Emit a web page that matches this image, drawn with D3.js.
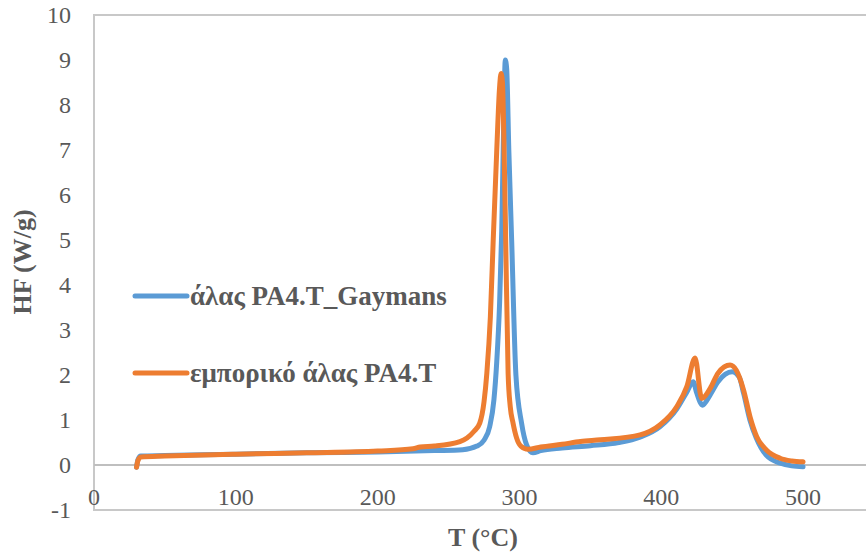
<!DOCTYPE html>
<html>
<head>
<meta charset="utf-8">
<script src="https://cdn.jsdelivr.net/npm/d3@7"></script>
<style>
  body { margin: 0; background: #fff; }
  text { font-family: "Liberation Serif", "Times New Roman", serif; fill: #595959; }
</style>
</head>
<body>
<script>
// series 1: άλας PA4.T_Gaymans
var blueT = [30, 31, 33, 50, 100, 150, 200, 240, 260, 270, 275, 279, 282, 284, 286, 287.5, 289, 290, 291, 292.5, 294.5, 297.5, 301.5, 305, 309.5, 315, 330, 350, 370, 385, 399, 411, 418, 422.5, 425, 429, 434.5, 440, 450, 455, 458, 462.5, 467, 474, 484, 492, 500];
var blueHF = [-0.05, 0.12, 0.2, 0.21, 0.24, 0.27, 0.29, 0.32, 0.34, 0.42, 0.55, 0.85, 1.45, 2.3, 3.6, 5.2, 7.8, 9.0, 8.8, 7.0, 5.0, 2.0, 0.93, 0.45, 0.27, 0.32, 0.38, 0.43, 0.5, 0.62, 0.85, 1.25, 1.62, 1.85, 1.6, 1.33, 1.56, 1.85, 2.07, 1.95, 1.6, 1.0, 0.6, 0.22, 0.04, -0.02, -0.04];

// series 2: εμπορικό άλας PA4.T
var orangeT = [30, 31, 33, 50, 100, 150, 200, 225, 230, 240, 258, 263, 268, 272, 275, 277, 279.5, 281.5, 284, 286, 287, 288, 289, 290.3, 292, 293.5, 295.5, 298, 301, 306, 315, 330, 343, 357, 385, 399, 411, 418, 423.8, 428.5, 434.6, 440, 448.5, 453, 458, 462.6, 467.3, 474.3, 483.8, 492, 500];
var orangeHF = [-0.05, 0.1, 0.18, 0.2, 0.24, 0.27, 0.31, 0.36, 0.4, 0.42, 0.52, 0.6, 0.75, 0.93, 1.4, 2.04, 3.3, 5.0, 7.0, 8.4, 8.7, 8.5, 7.3, 5.0, 2.04, 1.3, 0.93, 0.6, 0.42, 0.35, 0.4, 0.46, 0.52, 0.56, 0.67, 0.89, 1.3, 1.74, 2.38, 1.48, 1.71, 2.04, 2.22, 2.1, 1.67, 1.07, 0.63, 0.33, 0.15, 0.09, 0.07];

var xTicks = [0, 100, 200, 300, 400, 500];
var yTicks = [-1, 0, 1, 2, 3, 4, 5, 6, 7, 8, 9, 10];
var seriesNames = ["άλας PA4.T_Gaymans", "εμπορικό άλας PA4.T"];
var colors = ["#5B9BD5", "#ED7D31"];

var W = 866, H = 554;
var svg = d3.select("body").append("svg").attr("width", W).attr("height", H);

var x = d3.scaleLinear().domain([0, 550]).range([94, 874]);
var y = d3.scaleLinear().domain([-1, 10]).range([510, 15]);

// plot frame
svg.append("rect")
  .attr("x", x(0)).attr("y", y(10))
  .attr("width", x(550) - x(0)).attr("height", y(-1) - y(10))
  .attr("fill", "none").attr("stroke", "#c8c8c8").attr("stroke-width", 2);

// zero line
svg.append("line")
  .attr("x1", x(0)).attr("x2", x(550))
  .attr("y1", y(0)).attr("y2", y(0))
  .attr("stroke", "#bfbfbf").attr("stroke-width", 2);

// y tick labels
svg.selectAll(".ylab").data(yTicks).enter().append("text")
  .attr("class", "ylab")
  .attr("x", 71).attr("y", function(d) { return y(d); })
  .attr("dy", "0.35em")
  .attr("text-anchor", "end")
  .style("font-size", "24px")
  .text(function(d) { return d; });

// x tick labels (below zero line)
svg.selectAll(".xlab").data(xTicks).enter().append("text")
  .attr("class", "xlab")
  .attr("x", function(d) { return x(d); }).attr("y", 497)
  .attr("dy", "0.35em")
  .attr("text-anchor", "middle")
  .style("font-size", "24px")
  .text(function(d) { return d; });

// axis titles
svg.append("text")
  .attr("transform", "translate(22,262) rotate(-90)")
  .attr("text-anchor", "middle")
  .attr("dy", "0.35em")
  .style("font-size", "26px").style("font-weight", "bold")
  .text("HF (W/g)");
svg.append("text")
  .attr("x", 483).attr("y", 537)
  .attr("dy", "0.35em")
  .attr("text-anchor", "middle")
  .style("font-size", "26px").style("font-weight", "bold")
  .text("T (°C)");

var line = d3.line()
  .x(function(d) { return x(d[0]); })
  .y(function(d) { return y(d[1]); })
  .curve(d3.curveMonotoneX);

var series = [d3.zip(blueT, blueHF), d3.zip(orangeT, orangeHF)];
svg.selectAll(".series").data(series).enter().append("path")
  .attr("class", "series")
  .attr("d", line)
  .attr("fill", "none")
  .attr("stroke", function(d, i) { return colors[i]; })
  .attr("stroke-width", 5)
  .attr("stroke-linecap", "round")
  .attr("stroke-linejoin", "round");

// legend
var legY = [296, 373];
var leg = svg.selectAll(".leg").data(seriesNames).enter().append("g")
  .attr("class", "leg")
  .attr("transform", function(d, i) { return "translate(135," + legY[i] + ")"; });
leg.append("line")
  .attr("x1", 0).attr("x2", 52).attr("y1", 0).attr("y2", 0)
  .attr("stroke", function(d, i) { return colors[i]; })
  .attr("stroke-width", 5).attr("stroke-linecap", "round");
leg.append("text")
  .attr("x", 55).attr("dy", "0.35em")
  .style("font-size", "27px").style("font-weight", "bold")
  .text(function(d) { return d; });
</script>
</body>
</html>
